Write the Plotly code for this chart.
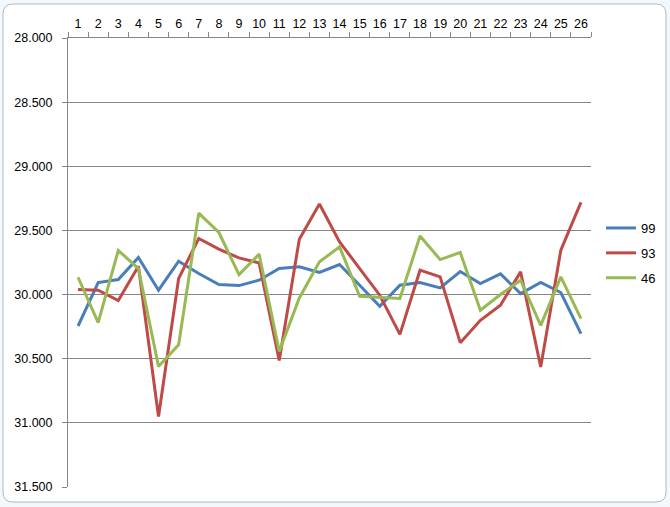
import plotly.graph_objects as go

categories = [str(i) for i in range(1, 27)]
s99 = [30.245, 29.906, 29.883, 29.711, 29.966, 29.740, 29.836, 29.922, 29.930, 29.888,
       29.797, 29.784, 29.828, 29.766, 29.927, 30.091, 29.927, 29.906, 29.948, 29.820,
       29.914, 29.839, 29.992, 29.906, 29.984, 30.305]
s93 = [29.961, 29.966, 30.047, 29.779, 30.950, 29.875, 29.563, 29.646, 29.714, 29.753,
       30.513, 29.568, 29.294, 29.589, 29.797, 30.005, 30.310, 29.810, 29.862, 30.375,
       30.201, 30.083, 29.823, 30.565, 29.654, 29.281]
s46 = [29.865, 30.219, 29.656, 29.797, 30.560, 30.391, 29.365, 29.516, 29.844, 29.685,
       30.443, 30.026, 29.745, 29.628, 30.013, 30.023, 30.031, 29.544, 29.727, 29.672,
       30.122, 30.000, 29.888, 30.240, 29.862, 30.188]
series_names = ["99", "93", "46"]
colors = ["#4A7EBB", "#BE4B48", "#98B954"]
y_ticks = [28.0, 28.5, 29.0, 29.5, 30.0, 30.5, 31.0, 31.5]

W, H = 670, 507
L, R, T, B = 68, 79, 38, 20
pw, ph = W - L - R, H - T - B

fig = go.Figure()
for name, vals, col in zip(series_names, [s99, s93, s46], colors):
    fig.add_trace(go.Scatter(x=categories, y=vals, name=name, mode="lines",
                             line=dict(color=col, width=3), legendgroup=name))

def px_x(p):
    return (p - L) / pw

def px_y(p):
    return (H - B - p) / ph

# rounded chart-area border
x0, x1, y0, y1, r = 3, 666, 4, 502, 10
path = (f"M {px_x(x0 + r)} {px_y(y0)} L {px_x(x1 - r)} {px_y(y0)} "
        f"Q {px_x(x1)} {px_y(y0)} {px_x(x1)} {px_y(y0 + r)} "
        f"L {px_x(x1)} {px_y(y1 - r)} Q {px_x(x1)} {px_y(y1)} {px_x(x1 - r)} {px_y(y1)} "
        f"L {px_x(x0 + r)} {px_y(y1)} Q {px_x(x0)} {px_y(y1)} {px_x(x0)} {px_y(y1 - r)} "
        f"L {px_x(x0)} {px_y(y0 + r)} Q {px_x(x0)} {px_y(y0)} {px_x(x0 + r)} {px_y(y0)} Z")
fig.add_shape(type="path", path=path, xref="paper", yref="paper",
              line=dict(color="#B0B8C0", width=1), fillcolor="white", layer="below")

fig.update_layout(
    width=W, height=H,
    margin=dict(l=L, r=R, t=T, b=B, autoexpand=False),
    paper_bgcolor="#F2F8FB",
    plot_bgcolor="rgba(0,0,0,0)",
    font=dict(family="Liberation Sans, Arial, sans-serif", size=12, color="#000000"),
    showlegend=True,
    legend=dict(x=px_x(601), y=px_y(253), xanchor="left", yanchor="middle",
                bgcolor="rgba(0,0,0,0)", tracegroupgap=5, font=dict(size=13),
                itemwidth=30),
    xaxis=dict(type="category", side="top", tickson="boundaries", ticks="outside",
               range=[-0.5, 25.5], tickangle=0, ticklabelstandoff=4,
               ticklen=5, tickcolor="#868686", showline=True, linecolor="#868686",
               linewidth=1, showgrid=False, zeroline=False,
               tickfont=dict(size=12.5)),
    yaxis=dict(range=[31.5, 28.0], tickvals=y_ticks, tickformat=".3f",
               ticks="outside", ticklen=5, tickcolor="#868686", showline=True,
               ticklabelstandoff=7,
               linecolor="#868686", linewidth=1, showgrid=True, gridcolor="#868686",
               gridwidth=1, zeroline=False, tickfont=dict(size=12.5)),
)

fig.write_html("out.html")
